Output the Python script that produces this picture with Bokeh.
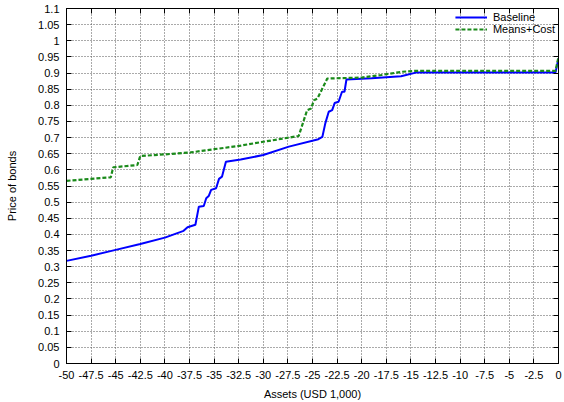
from bokeh.plotting import figure
from bokeh.models import Range1d, FixedTicker, CustomJSTickFormatter, LinearAxis, Legend, LegendItem
from bokeh.embed import file_html
from bokeh.resources import INLINE

# ---- data ----
x_base = [-50, -47.5, -45, -42.5, -40, -38.1, -37.7, -36.9, -36.55, -36.05, -35.8, -35.55,
          -35.3, -34.8, -34.5, -34.2, -33.8, -32.3, -30, -27.4, -24.4, -24.0, -23.7, -23.35,
          -23.0, -22.75, -22.35, -22.0, -21.75, -21.55, -19, -16, -14.4, -10, -5, -0.3, 0]
y_base = [0.318, 0.334, 0.352, 0.370, 0.390, 0.411, 0.422, 0.430, 0.486, 0.488, 0.512, 0.519,
          0.538, 0.543, 0.572, 0.579, 0.625, 0.632, 0.646, 0.672, 0.695, 0.702, 0.744, 0.780,
          0.785, 0.807, 0.811, 0.842, 0.842, 0.880, 0.884, 0.890, 0.902, 0.902, 0.902, 0.902, 0.945]

x_mc = [-50, -45.5, -45.25, -42.8, -42.5, -40, -37.4, -35, -32.5, -30, -27.4, -26.4, -25.55,
        -25.15, -24.85, -24.5, -23.5, -20, -18, -15.9, -14.4, -10, -5, -0.3, 0]
y_mc = [0.566, 0.577, 0.608, 0.615, 0.643, 0.648, 0.654, 0.664, 0.674, 0.687, 0.700, 0.705, 0.785,
        0.790, 0.816, 0.821, 0.883, 0.886, 0.894, 0.904, 0.907, 0.907, 0.907, 0.907, 0.950]

x_ticks = [-50 + 2.5 * i for i in range(21)]
y_ticks = [round(0.05 * i, 2) for i in range(23)]

series_names = ["Baseline", "Means+Cost"]
x_label = "Assets (USD 1,000)"
y_label = "Price of bonds"

FONT = "Liberation Sans"

p = figure(width=564, height=402, output_backend="svg", toolbar_location=None,
           x_range=Range1d(-50, 0), y_range=Range1d(0, 1.1),
           min_border_left=66, min_border_right=6, min_border_top=8, min_border_bottom=38)

fmt = CustomJSTickFormatter(code="return tick.toFixed(2).replace(/0+$/,'').replace(/\\.$/,'');")
blank = CustomJSTickFormatter(code="return '';")

p.xaxis.ticker = FixedTicker(ticks=x_ticks)
p.yaxis.ticker = FixedTicker(ticks=y_ticks)
for ax in (p.xaxis[0], p.yaxis[0]):
    ax.formatter = fmt
    ax.major_tick_in = 5
    ax.major_tick_out = 0
    ax.minor_tick_line_color = None
    ax.major_label_text_font = FONT
    ax.major_label_text_font_size = "11px"
    ax.major_label_text_color = "black"
    ax.axis_label_text_font = FONT
    ax.axis_label_text_font_size = "11px"
    ax.axis_label_text_font_style = "normal"
    ax.axis_label_text_color = "black"
    ax.axis_line_color = "black"
    ax.major_tick_line_color = "black"
p.xaxis.axis_label = x_label
p.yaxis.axis_label = y_label
p.xaxis.major_label_standoff = 7
p.xaxis.axis_label_standoff = 6
p.yaxis.major_label_standoff = 7
p.yaxis.axis_label_standoff = 17

top = LinearAxis(ticker=FixedTicker(ticks=x_ticks), formatter=blank, major_tick_in=5,
                 major_tick_out=0, minor_tick_line_color=None, major_label_text_font_size="1px",
                 major_label_standoff=0, axis_line_color="black")
right = LinearAxis(ticker=FixedTicker(ticks=y_ticks), formatter=blank, major_tick_in=5,
                   major_tick_out=0, minor_tick_line_color=None, major_label_text_font_size="1px",
                   major_label_standoff=0, axis_line_color="black")
p.add_layout(top, "above")
p.add_layout(right, "right")

for g, t in ((p.xgrid[0], x_ticks), (p.ygrid[0], y_ticks)):
    g.ticker = FixedTicker(ticks=t)
    g.grid_line_color = "#555555"
    g.grid_line_dash = "1 2"
    g.grid_line_width = 1

p.outline_line_color = "black"
p.outline_line_width = 1
p.background_fill_color = "white"
p.border_fill_color = "white"

r1 = p.line(x_base, y_base, line_color="#0000ff", line_width=2)
r2 = p.line(x_mc, y_mc, line_color="#1a8a1a", line_width=2.2, line_dash="4 2")

legend = Legend(items=[LegendItem(label=series_names[0], renderers=[r1]),
                       LegendItem(label=series_names[1], renderers=[r2])],
                location="top_right", border_line_color=None, background_fill_alpha=0,
                label_text_font=FONT, label_text_font_size="11px", label_text_color="black",
                label_height=12, glyph_height=12, glyph_width=32, spacing=0,
                padding=3, margin=3, label_standoff=6)
p.add_layout(legend)

open("out.html", "w").write(file_html(p, INLINE))
